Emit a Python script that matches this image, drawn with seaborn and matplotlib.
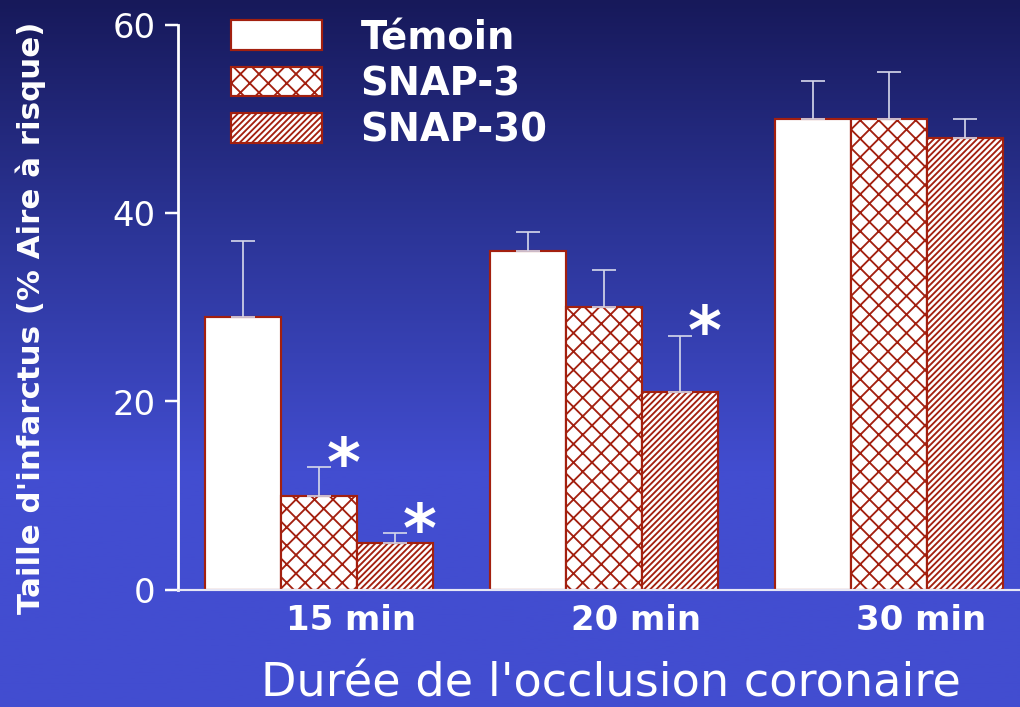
import numpy as np
import pandas as pd
import matplotlib
matplotlib.use("Agg")
import matplotlib.pyplot as plt
import seaborn as sns
from matplotlib.patches import Patch
from matplotlib.transforms import ScaledTranslation
from matplotlib.colors import LinearSegmentedColormap

# ---- data ----
durations = ["15 min", "20 min", "30 min"]
treatments = ["Témoin", "SNAP-3", "SNAP-30"]
temoin = [29, 36, 50]
snap3 = [10, 30, 50]
snap30 = [5, 21, 48]
temoin_err = [8, 2, 4]
snap3_err = [3, 4, 5]
snap30_err = [1, 6, 2]
# significance stars (True = marked with *)
snap3_sig = [True, False, False]
snap30_sig = [True, True, False]
yticks = [0, 20, 40, 60]

values = [temoin, snap3, snap30]
errors = [temoin_err, snap3_err, snap30_err]
signif = [[False] * 3, snap3_sig, snap30_sig]

df = pd.DataFrame({
    "duree": durations * 3,
    "groupe": [t for t in treatments for _ in durations],
    "taille": temoin + snap3 + snap30,
})

# ---- style ----
sns.set_style("white")
red = "#a3200f"
plt.rcParams["font.family"] = ["DejaVu Sans"]
plt.rcParams["hatch.color"] = red
plt.rcParams["hatch.linewidth"] = 1.2

DPI = 111
fig = plt.figure(figsize=(1020.4 / DPI, 707.4 / DPI), dpi=DPI)

# vertical gradient background
bg = fig.add_axes([0, 0, 1, 1], zorder=-10)
cmap = LinearSegmentedColormap.from_list("bg", ["#17195a", "#2c3598", "#424dd0", "#424dd0"])
grad = np.linspace(0, 1, 256).reshape(-1, 1)
bg.imshow(grad, aspect="auto", cmap=cmap, extent=[0, 1, 0, 1], origin="upper")
bg.set_axis_off()

ax = fig.add_axes([178 / 1020, 117 / 707, (1020 - 178) / 1020, (590 - 25) / 707])
ax.set_facecolor("none")

sns.barplot(
    data=df, x="duree", y="taille", hue="groupe",
    order=durations, hue_order=treatments,
    palette=["white"] * 3, edgecolor=red, linewidth=1.4,
    errorbar=None, width=0.8, saturation=1, legend=False, ax=ax,
)

hatches = ["", "xx", "//////"]
for cont, hatch, errs, sigs in zip(ax.containers, hatches, errors, signif):
    xs, ys = [], []
    for bar in cont:
        bar.set_hatch(hatch)
        bar.set_edgecolor(red)
        xs.append(bar.get_x() + bar.get_width() / 2)
        ys.append(bar.get_height())
    ax.errorbar(xs, ys, yerr=[np.zeros(len(errs)), errs], fmt="none",
                ecolor="#d4d6ea", elinewidth=1.1, capsize=7.5, capthick=1.1, zorder=5)
    for x, y, e, s in zip(xs, ys, errs, sigs):
        if s:
            ax.annotate("*", xy=(x, y + e), xytext=(16, -20), textcoords="offset points",
                        ha="center", va="bottom", color="white", fontsize=42,
                        fontweight="bold", zorder=6)

ax.set_xlim(-0.495, 2.46)
ax.set_ylim(0, 60)
ax.set_yticks(yticks)
ax.set_yticklabels([str(v) for v in yticks], color="white", fontsize=22)
ax.tick_params(axis="y", length=8.5, width=1.6, color="white", pad=6, left=True, direction="out")
ax.tick_params(axis="x", length=0, pad=9, labelsize=22, labelcolor="white")
ax.get_yticklines()[0].set_color(red)
for lab in ax.get_xticklabels():
    lab.set_fontweight("bold")
    lab.set_transform(lab.get_transform() + ScaledTranslation(32 / DPI, 0, fig.dpi_scale_trans))

for side in ["top", "right"]:
    ax.spines[side].set_visible(False)
ax.spines["left"].set_color("white")
ax.spines["left"].set_linewidth(1.8)
ax.spines["bottom"].set_color("#e6e6f5")
ax.spines["bottom"].set_linewidth(1.4)
ax.set_xlabel("")
ax.set_ylabel("")

fig.text(31 / 1020, 1 - 318 / 707, "Taille d'infarctus (% Aire à risque)", rotation=90,
         ha="center", va="center", color="white", fontsize=20, fontweight="bold")
fig.text(611 / 1020, 1 - 684 / 707, "Durée de l'occlusion coronaire",
         ha="center", va="center", color="white", fontsize=30)

handles = [Patch(facecolor="white", edgecolor=red, linewidth=1.4, hatch=h) for h in hatches]
leg = ax.legend(handles, treatments, loc="upper left",
                bbox_to_anchor=(231 / 1020, 1 - 19 / 707), bbox_transform=fig.transFigure,
                frameon=False, borderpad=0, borderaxespad=0, handlelength=2.36,
                handleheight=0.8, handletextpad=1.0, labelspacing=0.22,
                prop={"size": 25, "weight": "bold"})
for t in leg.get_texts():
    t.set_color("white")

fig.savefig("out.png", dpi=DPI)
